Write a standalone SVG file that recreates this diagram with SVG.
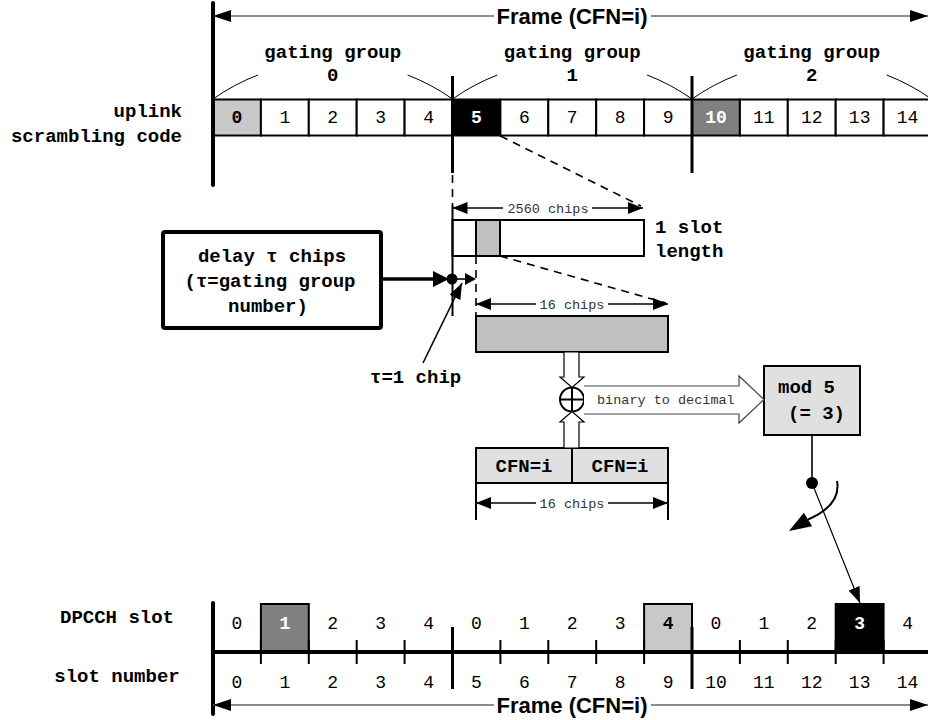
<svg xmlns="http://www.w3.org/2000/svg" width="928" height="720" viewBox="0 0 928 720">
  <defs>
    <style>
      .m { font-family: "Liberation Mono", "DejaVu Sans Mono", monospace; }
      .lbl { font-family: "Liberation Mono", "DejaVu Sans Mono", monospace; font-size: 19px; font-weight: bold; fill: #000; }
      .num { font-family: "Liberation Mono", "DejaVu Sans Mono", monospace; font-size: 18px; fill: #000; text-anchor: middle; }
      .nb { font-weight: bold; }
      .wt { fill: #fff; }
      .small { font-family: "Liberation Mono", "DejaVu Sans Mono", monospace; font-size: 13.5px; fill: #333; text-anchor: middle; }
      .frame { font-family: "Liberation Sans", Arial, sans-serif; font-size: 22px; font-weight: bold; text-anchor: middle; fill: #000; }
      .cell { fill: #fff; stroke: #000; stroke-width: 2; }
      .thick { stroke: #000; stroke-width: 4; stroke-linecap: round; fill: none; }
      .mid { stroke: #000; stroke-width: 3; fill: none; }
      .thin { stroke: #000; stroke-width: 1; fill: none; }
      .dash { stroke: #000; stroke-width: 1.6; stroke-dasharray: 8 6; fill: none; }
      .dim { stroke: #000; stroke-width: 1.6; fill: none; marker-start: url(#dimhead); marker-end: url(#dimhead); }
      .frameline { stroke: #666; stroke-width: 1.5; fill: none; marker-start: url(#framehead); marker-end: url(#framehead); }
    </style>
    <marker id="dimhead" viewBox="0 0 15 12" refX="15" refY="6" markerWidth="15" markerHeight="12" markerUnits="userSpaceOnUse" orient="auto-start-reverse">
      <path d="M0,0 L15,6 L0,12 z" fill="#000"/>
    </marker>
    <marker id="framehead" viewBox="0 0 18 12" refX="18" refY="6" markerWidth="18" markerHeight="12" markerUnits="userSpaceOnUse" orient="auto-start-reverse">
      <path d="M0,0 L18,6 L0,12 z" fill="#000"/>
    </marker>
    <marker id="pointer" viewBox="0 0 16 12" refX="16" refY="6" markerWidth="16" markerHeight="12" markerUnits="userSpaceOnUse" orient="auto">
      <path d="M0,0 L16,6 L0,12 z" fill="#000"/>
    </marker>
  </defs>

  <rect width="928" height="720" fill="#fff"/>

  <!-- upper frame: scrambling code chips grouped in slots -->
  <g id="frame-top">
    <line class="frameline" x1="213" y1="16" x2="928" y2="16"/>
    <rect x="494" y="4" width="157" height="26" fill="#fff"/>
    <text class="frame" x="572" y="24">Frame (CFN=i)</text>
  </g>

  <g id="gating-groups">
    <path class="thin" d="M213 99 A208 208 0 0 1 257.9 75 M407.6 75 A208 208 0 0 1 452.5 99"/>
    <path class="thin" d="M452.5 99 A208 208 0 0 1 497.4 75 M647.1 75 A208 208 0 0 1 692 99"/>
    <path class="thin" d="M692 99 A208 208 0 0 1 736.9 75 M886.6 75 A208 208 0 0 1 931.5 99"/>
    <g class="lbl" text-anchor="middle">
      <text x="332.75" y="58">gating group</text>
      <text x="332.75" y="81">0</text>
      <text x="572.25" y="58">gating group</text>
      <text x="572.25" y="81">1</text>
      <text x="811.75" y="58">gating group</text>
      <text x="811.75" y="81">2</text>
    </g>
  </g>

  <g id="uplink-label" class="lbl" text-anchor="end">
    <text x="182" y="117">uplink</text>
    <text x="182" y="142">scrambling code</text>
  </g>

  <g id="uplink-code">
    <rect class="cell" x="213" y="99.5" width="47.9" height="36" style="fill:#c8c8c8"/>
    <rect class="cell" x="260.9" y="99.5" width="47.9" height="36"/>
    <rect class="cell" x="308.8" y="99.5" width="47.9" height="36"/>
    <rect class="cell" x="356.7" y="99.5" width="47.9" height="36"/>
    <rect class="cell" x="404.6" y="99.5" width="47.9" height="36"/>
    <rect class="cell" x="452.5" y="99.5" width="47.9" height="36" style="fill:#000"/>
    <rect class="cell" x="500.4" y="99.5" width="47.9" height="36"/>
    <rect class="cell" x="548.3" y="99.5" width="47.9" height="36"/>
    <rect class="cell" x="596.2" y="99.5" width="47.9" height="36"/>
    <rect class="cell" x="644.1" y="99.5" width="47.9" height="36"/>
    <rect class="cell" x="692" y="99.5" width="47.9" height="36" style="fill:#808080"/>
    <rect class="cell" x="739.9" y="99.5" width="47.9" height="36"/>
    <rect class="cell" x="787.8" y="99.5" width="47.9" height="36"/>
    <rect class="cell" x="835.7" y="99.5" width="47.9" height="36"/>
    <rect class="cell" x="883.6" y="99.5" width="47.9" height="36"/>
    <text class="num nb" x="236.95" y="123">0</text>
    <text class="num" x="284.85" y="123">1</text>
    <text class="num" x="332.75" y="123">2</text>
    <text class="num" x="380.65" y="123">3</text>
    <text class="num" x="428.55" y="123">4</text>
    <text class="num nb wt" x="476.45" y="123">5</text>
    <text class="num" x="524.35" y="123">6</text>
    <text class="num" x="572.25" y="123">7</text>
    <text class="num" x="620.15" y="123">8</text>
    <text class="num" x="668.05" y="123">9</text>
    <text class="num nb wt" x="715.95" y="123">10</text>
    <text class="num" x="763.85" y="123">11</text>
    <text class="num" x="811.75" y="123">12</text>
    <text class="num" x="859.65" y="123">13</text>
    <text class="num" x="907.55" y="123">14</text>
    <line class="thick" x1="213" y1="3" x2="213" y2="185"/>
    <line class="mid" x1="452.5" y1="76" x2="452.5" y2="173"/>
    <line class="mid" x1="692" y1="76" x2="692" y2="173"/>
  </g>

  <!-- one slot, and the 16 chips taken from it -->
  <g id="slot">
    <rect class="cell" x="452.5" y="220" width="191.5" height="36"/>
    <rect class="cell" x="476" y="220" width="24" height="36" style="fill:#c0c0c0"/>
    <text class="lbl" x="655" y="233">1 slot</text>
    <text class="lbl" x="655" y="257">length</text>
  </g>

  <g id="chips16">
    <rect class="cell" x="476" y="316" width="192" height="36" style="fill:#c0c0c0"/>
  </g>

  <g id="delay-box">
    <rect x="163" y="232" width="218" height="96" rx="2" fill="#fff" stroke="#000" stroke-width="4"/>
    <g class="lbl" text-anchor="middle">
      <text x="272" y="262">delay τ chips</text>
      <text x="270" y="287">(τ=gating group</text>
      <text x="268" y="312">number)</text>
    </g>
  </g>

  <g id="tau-label">
    <text class="lbl" x="370" y="383">τ=1 chip</text>
  </g>

  <g id="xor">
    <circle cx="572" cy="399.5" r="12" fill="#fff" stroke="#000" stroke-width="2"/>
    <path d="M560 399.5 H584 M572 387.5 V411.5" stroke="#000" stroke-width="2"/>
  </g>

  <g id="mod5">
    <rect x="764" y="366" width="96" height="69" fill="#e0e0e0" stroke="#000" stroke-width="2"/>
    <text class="lbl" x="778" y="393">mod 5</text>
    <text class="lbl" x="788" y="419">(= 3)</text>
  </g>

  <g id="cfn">
    <rect x="476" y="448" width="96" height="35" fill="#e0e0e0" stroke="#000" stroke-width="2"/>
    <rect x="572" y="448" width="96" height="35" fill="#e0e0e0" stroke="#000" stroke-width="2"/>
    <g class="lbl" text-anchor="middle">
      <text x="524" y="472">CFN=i</text>
      <text x="620" y="472">CFN=i</text>
    </g>
  </g>

  <!-- lower frame: DPCCH slots -->
  <g id="dpcch">
    <rect class="cell" x="260.9" y="604" width="47.9" height="48" style="fill:#808080"/>
    <rect class="cell" x="644.1" y="604" width="47.9" height="48" style="fill:#c8c8c8"/>
    <rect class="cell" x="835.7" y="604" width="47.9" height="48" style="fill:#000"/>
    <line class="thick" x1="213" y1="652" x2="928" y2="652" style="stroke-linecap:butt"/>
    <line class="thick" x1="213" y1="603" x2="213" y2="714"/>
    <path stroke="#000" stroke-width="2" d="M260.9 640 V664 M308.8 640 V664 M356.7 640 V664 M404.6 640 V664 M500.4 640 V664 M548.3 640 V664 M596.2 640 V664 M644.1 640 V664 M739.9 640 V664 M787.8 640 V664 M835.7 640 V664 M883.6 640 V664"/>
    <line class="mid" x1="452.5" y1="627" x2="452.5" y2="689"/>
    <line class="mid" x1="692" y1="627" x2="692" y2="689"/>
    <text class="num" x="236.95" y="629">0</text>
    <text class="num nb wt" x="284.85" y="629">1</text>
    <text class="num" x="332.75" y="629">2</text>
    <text class="num" x="380.65" y="629">3</text>
    <text class="num" x="428.55" y="629">4</text>
    <text class="num" x="476.45" y="629">0</text>
    <text class="num" x="524.35" y="629">1</text>
    <text class="num" x="572.25" y="629">2</text>
    <text class="num" x="620.15" y="629">3</text>
    <text class="num nb" x="668.05" y="629">4</text>
    <text class="num" x="715.95" y="629">0</text>
    <text class="num" x="763.85" y="629">1</text>
    <text class="num" x="811.75" y="629">2</text>
    <text class="num nb wt" x="859.65" y="629">3</text>
    <text class="num" x="907.55" y="629">4</text>
    <text class="num" x="236.95" y="688">0</text>
    <text class="num" x="284.85" y="688">1</text>
    <text class="num" x="332.75" y="688">2</text>
    <text class="num" x="380.65" y="688">3</text>
    <text class="num" x="428.55" y="688">4</text>
    <text class="num" x="476.45" y="688">5</text>
    <text class="num" x="524.35" y="688">6</text>
    <text class="num" x="572.25" y="688">7</text>
    <text class="num" x="620.15" y="688">8</text>
    <text class="num" x="668.05" y="688">9</text>
    <text class="num" x="715.95" y="688">10</text>
    <text class="num" x="763.85" y="688">11</text>
    <text class="num" x="811.75" y="688">12</text>
    <text class="num" x="859.65" y="688">13</text>
    <text class="num" x="907.55" y="688">14</text>
  </g>

  <g id="dpcch-label" class="lbl" text-anchor="middle">
    <text x="117" y="623">DPCCH slot</text>
    <text x="117" y="682">slot number</text>
  </g>

  <g id="frame-bottom">
    <line class="frameline" x1="213" y1="705" x2="928" y2="705"/>
    <rect x="494" y="693" width="157" height="26" fill="#fff"/>
    <text class="frame" x="572" y="713">Frame (CFN=i)</text>
  </g>

  <g id="connectors">
    <!-- zoom from chip 5 into one slot -->
    <line class="dash" x1="452.5" y1="175" x2="452.5" y2="205"/>
    <line class="dash" x1="500.4" y1="136" x2="641" y2="206"/>
    <line x1="452.5" y1="205" x2="452.5" y2="316" stroke="#000" stroke-width="2"/>
    <line class="dim" x1="452.5" y1="208" x2="643" y2="208"/>
    <rect x="503" y="200" width="89" height="16" fill="#fff"/>
    <text class="small" x="548" y="212.5">2560 chips</text>

    <!-- zoom from the slot into 16 chips -->
    <line class="dash" x1="476" y1="256" x2="476" y2="316"/>
    <line class="dash" x1="500" y1="256" x2="666" y2="303"/>
    <line class="dim" x1="476" y1="304" x2="668" y2="304"/>
    <rect x="536" y="296" width="72" height="16" fill="#fff"/>
    <text class="small" x="572" y="308.5">16 chips</text>

    <!-- delay input -->
    <line x1="381" y1="279" x2="436" y2="279" stroke="#000" stroke-width="3.5"/>
    <path d="M433 271 L449 279 L433 287 z" fill="#000"/>
    <circle cx="452" cy="279" r="5.5" fill="#000"/>
    <line x1="452" y1="279" x2="466" y2="279" stroke="#000" stroke-width="1.6"/>
    <path d="M465 273 L476 279 L465 285 z" fill="#000"/>
    <line x1="423" y1="363" x2="462" y2="283" stroke="#000" stroke-width="1.6" marker-end="url(#pointer)"/>

    <!-- hollow arrows into the XOR -->
    <path d="M564 352 L579 352 L579 377 L584 377 L572 387.5 L560 377 L564 377 z" fill="#fff" stroke="#000" stroke-width="1.2"/>
    <path d="M564 448 L579 448 L579 422 L584 422 L572 411.5 L560 422 L564 422 z" fill="#fff" stroke="#000" stroke-width="1.2"/>
    <path d="M584 386 L739 386 L739 376 L764 399.5 L739 423 L739 414 L584 414" fill="#fff" stroke="#444" stroke-width="1.2"/>
    <text class="m" x="597" y="404" font-size="13.5" fill="#333">binary to decimal</text>

    <!-- width of the CFN pair -->
    <path d="M476 483 V520 M668 483 V520" stroke="#000" stroke-width="2"/>
    <line class="dim" x1="476" y1="503" x2="668" y2="503"/>
    <rect x="536" y="495" width="72" height="16" fill="#fff"/>
    <text class="small" x="572" y="507.5">16 chips</text>

    <!-- selector pointing at the chosen DPCCH slot -->
    <line x1="812" y1="435" x2="812" y2="483" stroke="#000" stroke-width="1.6"/>
    <circle cx="812" cy="483" r="6" fill="#000"/>
    <line x1="812" y1="483" x2="860" y2="603" stroke="#000" stroke-width="1.2" marker-end="url(#pointer)"/>
    <path d="M837 481 C840 497 830 510 808 519.5" fill="none" stroke="#000" stroke-width="2"/>
    <path d="M789 531 L803.9 512.7 L812.1 526.3 z" fill="#000"/>
  </g>
</svg>
